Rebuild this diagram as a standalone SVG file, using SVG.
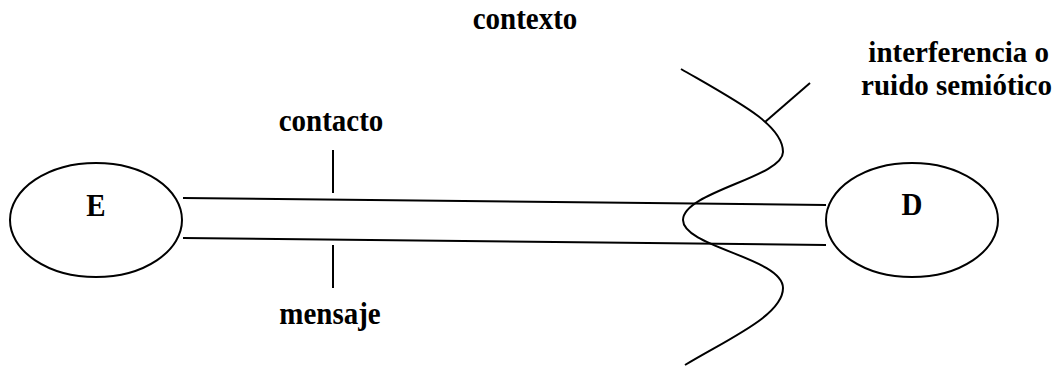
<svg xmlns="http://www.w3.org/2000/svg" width="1059" height="367" viewBox="0 0 1059 367">
<style>
.ln{fill:none;stroke:#000;stroke-width:2}
.t{font-family:"Liberation Serif","Times New Roman",serif;font-weight:bold;font-size:29px;fill:#000}
</style>
<rect width="1059" height="367" fill="#fff"/>
<g id="node-E">
<ellipse class="ln" cx="96" cy="220" rx="86" ry="57"/>
<text class="t" transform="translate(96,216) scale(1,1.1)" text-anchor="middle">E</text>
</g>
<g id="node-D">
<ellipse class="ln" cx="912" cy="220" rx="86" ry="57"/>
<text class="t" transform="translate(912,215) scale(1,1.1)" text-anchor="middle">D</text>
</g>
<g id="connectors">
<line class="ln" x1="183" y1="198" x2="826" y2="205"/>
<line class="ln" x1="183" y1="238" x2="826" y2="245"/>
<line class="ln" x1="333" y1="150" x2="333" y2="193"/>
<line class="ln" x1="333" y1="245" x2="333" y2="288"/>
<path class="ln" d="M681,69 C740,103 783,125 783,152 C783,177 683,192 683,220 C683,247 783,258 783,288 C783,315 730,338 685,365"/>
<line class="ln" x1="765" y1="122" x2="810" y2="83"/>
</g>
<g id="labels">
<text class="t" transform="translate(525,29) scale(1,1.1)" text-anchor="middle">contexto</text>
<text class="t" transform="translate(331,131) scale(1,1.1)" text-anchor="middle">contacto</text>
<text class="t" transform="translate(330,324) scale(1,1.1)" text-anchor="middle">mensaje</text>
<text class="t" x="1049" y="62" text-anchor="end">interferencia o</text>
<text class="t" x="1052" y="95" text-anchor="end">ruido semiótico</text>
</g>
</svg>
